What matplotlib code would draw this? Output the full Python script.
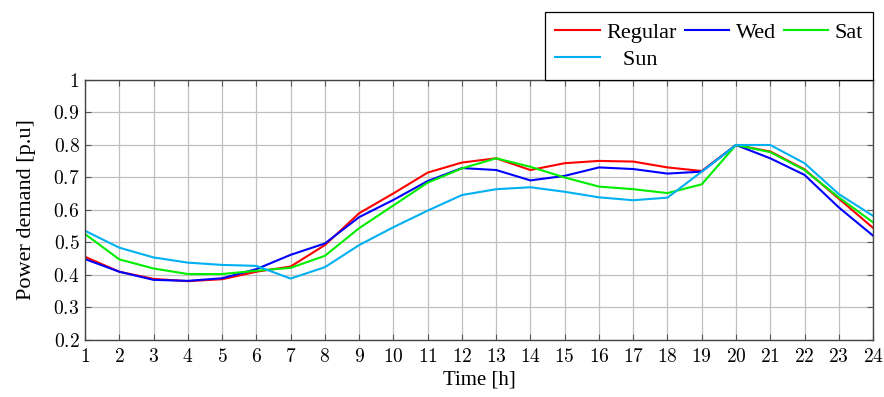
import matplotlib
matplotlib.use("Agg")
import matplotlib.pyplot as plt
import numpy as np

hours = list(range(1, 25))

regular = [0.456, 0.41, 0.388, 0.381, 0.387, 0.41, 0.426, 0.492, 0.59, 0.651, 0.715, 0.746,
           0.759, 0.723, 0.744, 0.751, 0.749, 0.731, 0.72, 0.80, 0.78, 0.725, 0.635, 0.545]
wed = [0.449, 0.41, 0.385, 0.382, 0.39, 0.418, 0.462, 0.497, 0.578, 0.631, 0.689, 0.729,
       0.723, 0.691, 0.705, 0.731, 0.726, 0.712, 0.718, 0.80, 0.759, 0.708, 0.608, 0.521]
sat = [0.526, 0.448, 0.42, 0.403, 0.403, 0.413, 0.422, 0.459, 0.544, 0.614, 0.684, 0.728,
       0.759, 0.733, 0.70, 0.672, 0.664, 0.652, 0.679, 0.80, 0.778, 0.723, 0.639, 0.562]
sun = [0.536, 0.484, 0.454, 0.438, 0.431, 0.428, 0.389, 0.424, 0.492, 0.547, 0.598, 0.646,
       0.664, 0.67, 0.656, 0.639, 0.63, 0.638, 0.718, 0.80, 0.80, 0.744, 0.649, 0.582]

plt.rcParams['font.family'] = 'Liberation Serif'
plt.rcParams['mathtext.fontset'] = 'cm'

fig = plt.figure(figsize=(8.84, 3.97), dpi=100)
ax = fig.add_axes([0.0962, 0.1436, 0.8914, 0.6549])

l1, = ax.plot(hours, regular, color='#ff0000', lw=1.5)
l2, = ax.plot(hours, wed, color='#0000ff', lw=1.5)
l3, = ax.plot(hours, sat, color='#00ee00', lw=1.5)
l4, = ax.plot(hours, sun, color='#00b0f0', lw=1.5)

ax.set_xlim(1, 24)
ax.set_ylim(0.2, 1.0)
ax.set_xticks(hours)
ax.set_xticklabels([f'${h}$' for h in hours], fontsize=14)
yt = np.round(np.arange(0.2, 1.01, 0.1), 1)
ax.set_yticks(yt)
ax.set_yticklabels([f'${v:g}$' for v in yt], fontsize=14)
ax.grid(True, color='#c0c0c0', lw=0.9)
ax.tick_params(direction='in', top=True, right=True, length=4, color='#555555')
ax.tick_params(axis='x', pad=6)
ax.tick_params(axis='y', pad=4)
for s in ax.spines.values():
    s.set_color('#444444')
    s.set_linewidth(1.0)

ax.set_xlabel('Time [h]', fontsize=15, labelpad=3)
ax.set_ylabel('Power demand [p.u]', fontsize=16, labelpad=12)

leg = ax.legend([l1, l4, l2, l3], ['Regular', '   Sun', 'Wed', 'Sat'], ncol=3,
                loc='lower right', bbox_to_anchor=(1.0, 1.0), fontsize=16,
                frameon=True, fancybox=False, framealpha=1, edgecolor='black',
                handlelength=2.0, handletextpad=0.3, columnspacing=0.35,
                labelspacing=0.3, borderpad=0.45, borderaxespad=0)
leg.get_frame().set_linewidth(0.9)

fig.savefig('out.png', dpi=100)
